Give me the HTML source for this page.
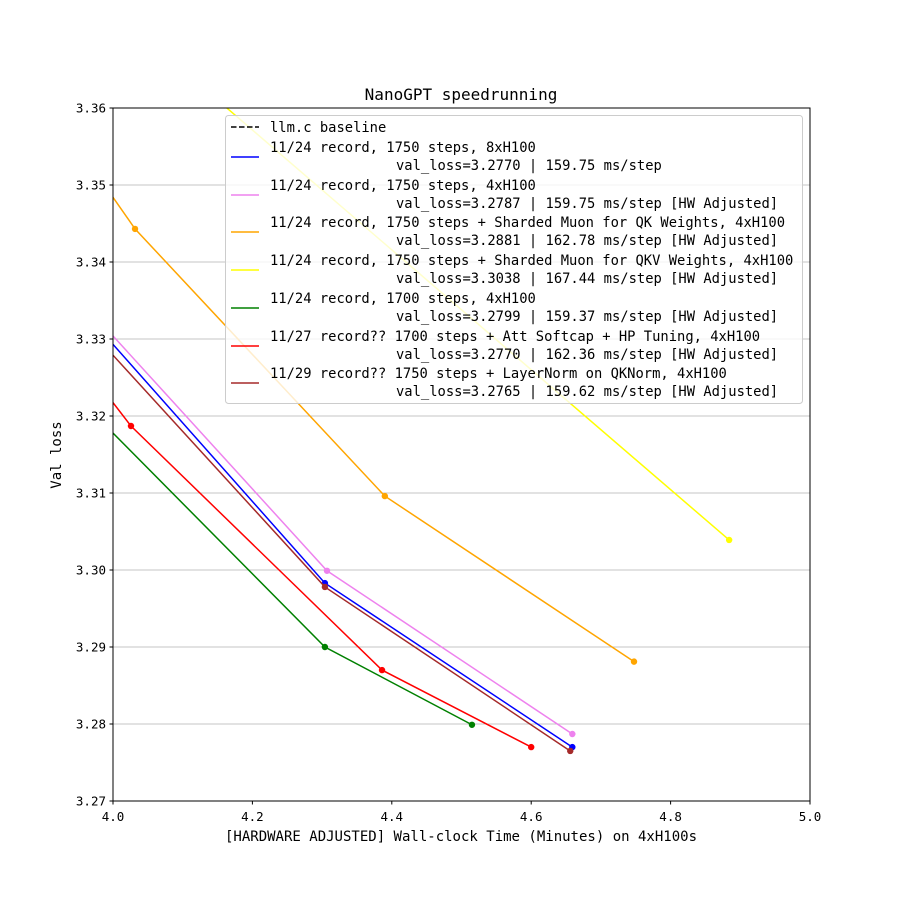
<!DOCTYPE html>
<html><head><meta charset="utf-8"><style>
body{margin:0;background:#fff}
svg text{font-family:"DejaVu Sans Mono","Liberation Mono",monospace;fill:#000}
</style></head><body>
<svg id="chart" width="900" height="900" xmlns="http://www.w3.org/2000/svg">
<rect width="900" height="900" fill="#fff"/>
<defs><clipPath id="plotclip"><rect x="113" y="108" width="697" height="693"/></clipPath></defs>
<g id="grid"></g>
<g id="series" clip-path="url(#plotclip)"></g>
<rect x="113" y="108" width="697" height="693" fill="none" stroke="#000" stroke-width="1"/>
<g id="axes"></g>
<text x="461" y="100" text-anchor="middle" font-size="16">NanoGPT speedrunning</text>
<text x="461" y="841" text-anchor="middle" font-size="14">[HARDWARE ADJUSTED] Wall-clock Time (Minutes) on 4xH100s</text>
<text transform="translate(61,455) rotate(-90)" text-anchor="middle" font-size="14">Val loss</text>
<g id="legend"></g>
</svg>
<script>
const xTicks=[4.0,4.2,4.4,4.6,4.8,5.0];
const yTicks=[3.27,3.28,3.29,3.30,3.31,3.32,3.33,3.34,3.35,3.36];
const seriesNames=["11/24 record, 1750 steps, 8xH100","11/24 record, 1750 steps, 4xH100","11/24 record, 1750 steps + Sharded Muon for QK Weights, 4xH100","11/24 record, 1750 steps + Sharded Muon for QKV Weights, 4xH100","11/24 record, 1700 steps, 4xH100","11/27 record?? 1700 steps + Att Softcap + HP Tuning, 4xH100","11/29 record?? 1750 steps + LayerNorm on QKNorm, 4xH100"];
const seriesSub=["val_loss=3.2770 | 159.75 ms/step","val_loss=3.2787 | 159.75 ms/step [HW Adjusted]","val_loss=3.2881 | 162.78 ms/step [HW Adjusted]","val_loss=3.3038 | 167.44 ms/step [HW Adjusted]","val_loss=3.2799 | 159.37 ms/step [HW Adjusted]","val_loss=3.2770 | 162.36 ms/step [HW Adjusted]","val_loss=3.2765 | 159.62 ms/step [HW Adjusted]"];
const seriesColors=["blue","violet","orange","yellow","green","red","brown"];
const xBlue=[3.7,4.304,4.659], yBlue=[3.3599,3.2983,3.2770];
const xViolet=[3.7,4.307,4.659], yViolet=[3.3602,3.2999,3.2787];
const xOrange=[3.7,4.0316,4.390,4.7475], yOrange=[3.3874,3.3443,3.3096,3.2881];
const xYellow=[3.9,4.884], yYellow=[3.3805,3.3039];
const xGreen=[3.7,4.304,4.515], yGreen=[3.3452,3.2900,3.2799];
const xRed=[3.7,4.0258,4.386,4.600], yRed=[3.357,3.3187,3.2870,3.2770];
const xBrown=[3.7,4.304,4.656], yBrown=[3.3576,3.2978,3.2765];
const seriesX=[xBlue,xViolet,xOrange,xYellow,xGreen,xRed,xBrown];
const seriesY=[yBlue,yViolet,yOrange,yYellow,yGreen,yRed,yBrown];

const NS="http://www.w3.org/2000/svg";
const X0=113,X1=810,Y0=801,Y1=108;
const xs=v=>X0+(v-4.0)/(5.0-4.0)*(X1-X0);
const ys=v=>Y0-(v-3.27)/(3.36-3.27)*(Y0-Y1);
function mk(tag,attrs,parent){const e=document.createElementNS(NS,tag);for(const k in attrs)e.setAttribute(k,attrs[k]);parent.appendChild(e);return e;}
const grid=document.getElementById('grid'),axes=document.getElementById('axes'),ser=document.getElementById('series'),leg=document.getElementById('legend');
yTicks.forEach(t=>{const y=ys(t);
 const g=mk('line',{x1:X0,x2:X1,y1:y,y2:y,stroke:'#b0b0b0','stroke-width':0.8},grid);
 
 
 mk('line',{x1:X0-3.5,x2:X0,y1:y,y2:y,stroke:'#000'},axes);
 const tx=mk('text',{x:X0-7,y:y+4.5,'text-anchor':'end','font-size':12.5},axes);tx.textContent=t.toFixed(2);
 
 
});
xTicks.forEach(t=>{const x=xs(t);
 mk('line',{x1:x,x2:x,y1:Y0,y2:Y0+3.5,stroke:'#000'},axes);
 const tx=mk('text',{x:x,y:Y0+20,'text-anchor':'middle','font-size':12.5},axes);tx.textContent=t.toFixed(1);
 
 
});
seriesX.forEach((xa,i)=>{
 const pts=xa.map((x,j)=>xs(x)+','+ys(seriesY[i][j])).join(' ');
 const pl=mk('polyline',{points:pts,fill:'none',stroke:seriesColors[i],'stroke-width':1.5},ser);
 
 
 xa.forEach((x,j)=>{const c=mk('circle',{cx:xs(x),cy:ys(seriesY[i][j]),r:3.2,fill:seriesColors[i]},ser);
  
  });
});
const box=mk('rect',{x:225.5,y:115.5,width:577,height:288,rx:3,fill:'#fff','fill-opacity':0.8,stroke:'#ccc'},leg);


let l=mk('line',{x1:231,x2:259,y1:127,y2:127,stroke:'#000','stroke-width':1.5,'stroke-dasharray':'5.5,2.5'},leg);
let t0=mk('text',{x:270,y:132,'font-size':13.8},leg);t0.textContent="llm.c baseline";


const rows=[157,195,232,270,308,346,383];
seriesNames.forEach((n,i)=>{const y=rows[i];
 mk('line',{x1:231,x2:259,y1:y,y2:y,stroke:seriesColors[i],'stroke-width':1.5},leg);
 const a=mk('text',{x:270,y:y-5,'font-size':13.8},leg);a.textContent=n;
 
 
 const b=mk('text',{x:396,y:y+13,'font-size':13.8},leg);b.textContent=seriesSub[i];
 
 
});
</script>
</body></html>
